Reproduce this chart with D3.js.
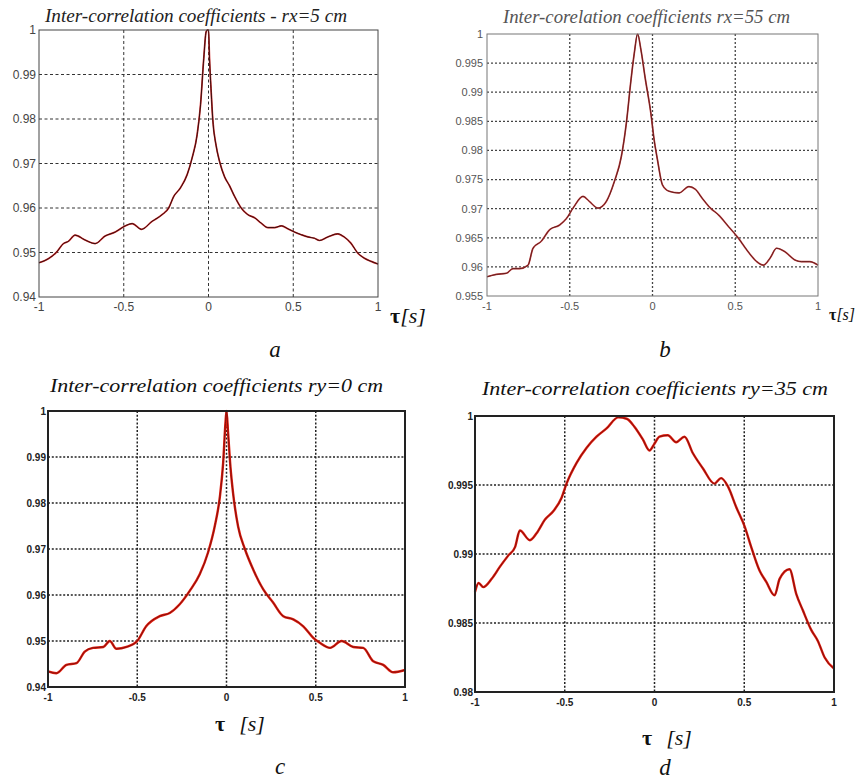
<!DOCTYPE html>
<html>
<head>
<meta charset="utf-8">
<script src="https://cdn.jsdelivr.net/npm/d3@7"></script>
<style>
  body { margin: 0; background: #fff; }
  svg { display: block; }
</style>
</head>
<body>
<div id="fig"></div>
<script>
// values (tau in s, coefficient)
var aTau = [-1, -0.945, -0.896, -0.856, -0.827, -0.787, -0.728, -0.669, -0.61, -0.55, -0.5, -0.45, -0.396, -0.333, -0.274, -0.235, -0.205, -0.166, -0.126, -0.097, -0.067, -0.047, -0.028, -0.014, -0.006, 0, 0.006, 0.016, 0.025, 0.045, 0.065, 0.095, 0.124, 0.154, 0.193, 0.232, 0.272, 0.311, 0.35, 0.39, 0.43, 0.47, 0.507, 0.547, 0.586, 0.625, 0.655, 0.704, 0.763, 0.8, 0.84, 0.88, 0.92, 0.96, 1];
var aVal = [0.9477, 0.9486, 0.9501, 0.952, 0.9525, 0.9539, 0.9528, 0.952, 0.9537, 0.9546, 0.9558, 0.9565, 0.9552, 0.957, 0.9585, 0.960, 0.9626, 0.9645, 0.9675, 0.9712, 0.9765, 0.9832, 0.9936, 0.9996, 1.0, 1.0, 0.9936, 0.986, 0.980, 0.974, 0.9705, 0.967, 0.965, 0.9626, 0.960, 0.9585, 0.9578, 0.9566, 0.9556, 0.9556, 0.956, 0.9553, 0.9546, 0.954, 0.9535, 0.9532, 0.9527, 0.9535, 0.9542, 0.9535, 0.9521, 0.9499, 0.9487, 0.948, 0.9474];

var bTau = [-1, -0.944, -0.883, -0.843, -0.803, -0.752, -0.722, -0.672, -0.621, -0.561, -0.52, -0.48, -0.42, -0.38, -0.33, -0.28, -0.23, -0.188, -0.158, -0.13, -0.11, -0.09, -0.07, -0.044, -0.01, 0.01, 0.03, 0.06, 0.1, 0.16, 0.22, 0.26, 0.3, 0.35, 0.4, 0.46, 0.52, 0.57, 0.63, 0.67, 0.71, 0.75, 0.8, 0.86, 0.9, 0.95, 1];
var bVal = [0.9583, 0.9587, 0.9589, 0.9597, 0.9597, 0.9603, 0.9632, 0.9644, 0.9664, 0.9672, 0.9683, 0.9701, 0.9721, 0.9712, 0.9701, 0.9712, 0.9747, 0.979, 0.9847, 0.9921, 0.9967, 1.0, 0.9973, 0.9924, 0.9864, 0.9818, 0.9784, 0.9741, 0.973, 0.9727, 0.9738, 0.9733, 0.9718, 0.9701, 0.9689, 0.9669, 0.9649, 0.9629, 0.9609, 0.9603, 0.9615, 0.9632, 0.9626, 0.9612, 0.9609, 0.9609, 0.9603];

var cTau = [-1, -0.953, -0.897, -0.84, -0.794, -0.748, -0.69, -0.654, -0.617, -0.56, -0.5, -0.45, -0.374, -0.318, -0.262, -0.206, -0.15, -0.103, -0.065, -0.037, -0.019, -0.006, 0, 0.009, 0.022, 0.037, 0.065, 0.103, 0.15, 0.206, 0.262, 0.318, 0.374, 0.43, 0.486, 0.523, 0.58, 0.645, 0.71, 0.766, 0.822, 0.878, 0.934, 1];
var cVal = [0.9434, 0.943, 0.9448, 0.9452, 0.9477, 0.9485, 0.9487, 0.95, 0.9483, 0.9487, 0.95, 0.9532, 0.9554, 0.9561, 0.958, 0.9609, 0.9645, 0.9693, 0.9751, 0.9814, 0.9886, 0.9973, 1.0, 0.9952, 0.9879, 0.9821, 0.9749, 0.97, 0.9655, 0.9612, 0.9583, 0.9554, 0.9547, 0.9532, 0.9507, 0.9496, 0.9485, 0.95, 0.9487, 0.9485, 0.9456, 0.9448, 0.9432, 0.9437];

var dTau = [-1, -0.98, -0.954, -0.907, -0.86, -0.814, -0.777, -0.75, -0.694, -0.657, -0.61, -0.564, -0.517, -0.49, -0.434, -0.378, -0.323, -0.267, -0.202, -0.155, -0.111, -0.065, -0.028, 0, 0.028, 0.074, 0.121, 0.167, 0.214, 0.27, 0.334, 0.371, 0.409, 0.455, 0.502, 0.539, 0.585, 0.622, 0.669, 0.697, 0.752, 0.79, 0.827, 0.873, 0.91, 0.948, 1];
var dVal = [0.98725, 0.9879, 0.9876, 0.9882, 0.9891, 0.9899, 0.9905, 0.9917, 0.991, 0.9915, 0.9925, 0.9931, 0.9941, 0.9951, 0.9966, 0.9977, 0.9985, 0.9991, 0.9999, 0.9998, 0.9992, 0.9983, 0.9975, 0.998, 0.9985, 0.9986, 0.9981, 0.9985, 0.9973, 0.9962, 0.9951, 0.9955, 0.9949, 0.9934, 0.992, 0.9905, 0.9888, 0.988, 0.987, 0.9882, 0.9889, 0.9871, 0.9859, 0.9845, 0.9837, 0.9825, 0.9817];

var xTicks = [-1, -0.5, 0, 0.5, 1];
var aTicks = [0.94, 0.95, 0.96, 0.97, 0.98, 0.99, 1];
var bTicks = [0.955, 0.96, 0.965, 0.97, 0.975, 0.98, 0.985, 0.99, 0.995, 1];
var cTicks = [0.94, 0.95, 0.96, 0.97, 0.98, 0.99, 1];
var dTicks = [0.98, 0.985, 0.99, 0.995, 1];

var titles = [
  "Inter-correlation coefficients - rx=5 cm",
  "Inter-corelation coefficients rx=55 cm",
  "Inter-correlation coefficients ry=0 cm",
  "Inter-correlation coefficients ry=35 cm"
];
var letters = ["a", "b", "c", "d"];

var W = 859, H = 782;
var svg = d3.select("#fig").append("svg").attr("width", W).attr("height", H);

var serif = "'Liberation Serif', 'Times New Roman', serif";
var sans = "'Liberation Sans', Arial, sans-serif";

var panels = [
  { tau: aTau, val: aVal, ticks: aTicks, box: [39, 378, 30, 297], dom: [0.94, 1],
    title: titles[0], tx: 45, ty: 22, tw: 302, tcol: "#222", tsize: 18,
    tickFont: 12, tickBold: false, tickCol: "#444", ylx: 36, xly: 311,
    grid: "3,2.5", gridCol: "#333", gridW: 1, frameW: 1, frameCol: "#444",
    lineCol: "#d02020", topCol: "#201010", lineW: 1.7,
    letter: letters[0], lx: 275, ly: 357, tauX: 390, tauY: 323, tauGap: 0, tauSize: 22 },
  { tau: bTau, val: bVal, ticks: bTicks, box: [487, 818, 34, 296], dom: [0.955, 1],
    title: titles[1], tx: 503, ty: 23, tw: 287, tcol: "#555", tsize: 18,
    tickFont: 11, tickBold: false, tickCol: "#555", ylx: 483, xly: 310,
    grid: "2,2", gridCol: "#444", gridW: 1.3, frameW: 1, frameCol: "#777",
    lineCol: "#c04040", topCol: "#5a1a1a", lineW: 1.7,
    letter: letters[1], lx: 665, ly: 357, tauX: 829, tauY: 320, tauGap: 0, tauSize: 16 },
  { tau: cTau, val: cVal, ticks: cTicks, box: [48, 405, 411, 687], dom: [0.94, 1],
    title: titles[2], tx: 50, ty: 392, tw: 333, tcol: "#111", tsize: 18,
    tickFont: 10, tickBold: true, tickCol: "#222", ylx: 46, xly: 701,
    grid: "2,1.8", gridCol: "#222", gridW: 1.5, frameW: 2, frameCol: "#222",
    lineCol: "#e01a0a", topCol: "#7a1010", lineW: 2.4,
    letter: letters[2], lx: 280, ly: 774, tauX: 215, tauY: 731, tauGap: 14, tauSize: 22 },
  { tau: dTau, val: dVal, ticks: dTicks, box: [475, 834, 416, 692], dom: [0.98, 1],
    title: titles[3], tx: 482, ty: 395, tw: 346, tcol: "#111", tsize: 18,
    tickFont: 10, tickBold: true, tickCol: "#222", ylx: 473, xly: 706,
    grid: "2,1.8", gridCol: "#222", gridW: 1.5, frameW: 2, frameCol: "#222",
    lineCol: "#e01a0a", topCol: "#7a1010", lineW: 2.4,
    letter: letters[3], lx: 665, ly: 775, tauX: 642, tauY: 745, tauGap: 14, tauSize: 22 }
];

panels.forEach(function (p) {
  var x = d3.scaleLinear().domain([-1, 1]).range([p.box[0], p.box[1]]);
  var y = d3.scaleLinear().domain(p.dom).range([p.box[3], p.box[2]]);
  var g = svg.append("g");

  // grid
  g.selectAll(".vg").data(xTicks.slice(1, -1)).enter().append("line")
    .attr("x1", function (d) { return x(d); }).attr("x2", function (d) { return x(d); })
    .attr("y1", p.box[2]).attr("y2", p.box[3])
    .attr("stroke", p.gridCol).attr("stroke-width", p.gridW).attr("stroke-dasharray", p.grid);
  g.selectAll(".hg").data(p.ticks.slice(1, -1)).enter().append("line")
    .attr("x1", p.box[0]).attr("x2", p.box[1])
    .attr("y1", function (d) { return y(d); }).attr("y2", function (d) { return y(d); })
    .attr("stroke", p.gridCol).attr("stroke-width", p.gridW).attr("stroke-dasharray", p.grid);

  // curve
  var pts = p.tau.map(function (t, i) { return [t, p.val[i]]; });
  var line = d3.line().x(function (d) { return x(d[0]); }).y(function (d) { return y(d[1]); })
    .curve(d3.curveMonotoneX);
  g.append("path").attr("d", line(pts)).attr("fill", "none")
    .attr("stroke", p.lineCol).attr("stroke-width", p.lineW).attr("stroke-linejoin", "round");
  g.append("path").attr("d", line(pts)).attr("fill", "none")
    .attr("stroke", p.topCol).attr("stroke-width", 0.9).attr("stroke-linejoin", "round");

  // frame
  g.append("rect").attr("x", p.box[0]).attr("y", p.box[2])
    .attr("width", p.box[1] - p.box[0]).attr("height", p.box[3] - p.box[2])
    .attr("fill", "none").attr("stroke", p.frameCol).attr("stroke-width", p.frameW);

  // tick labels
  g.selectAll(".yl").data(p.ticks).enter().append("text")
    .attr("x", p.ylx).attr("y", function (d) { return y(d); }).attr("dy", "0.35em")
    .attr("text-anchor", "end").attr("font-family", sans).attr("font-size", p.tickFont)
    .attr("font-weight", p.tickBold ? "bold" : "normal").attr("fill", p.tickCol)
    .text(function (d) { return d3.format("")(d); });
  g.selectAll(".xl").data(xTicks).enter().append("text")
    .attr("x", function (d) { return x(d); }).attr("y", p.xly)
    .attr("text-anchor", "middle").attr("font-family", sans).attr("font-size", p.tickFont)
    .attr("font-weight", p.tickBold ? "bold" : "normal").attr("fill", p.tickCol)
    .text(function (d) { return d; });

  // title
  g.append("text").attr("x", p.tx).attr("y", p.ty)
    .attr("font-family", serif).attr("font-style", "italic").attr("font-size", p.tsize)
    .attr("fill", p.tcol).attr("textLength", p.tw).attr("lengthAdjust", "spacingAndGlyphs")
    .text(p.title);

  // tau [s]
  var t = g.append("text").attr("x", p.tauX).attr("y", p.tauY)
    .attr("font-family", serif).attr("font-size", p.tauSize).attr("fill", "#111");
  t.append("tspan").attr("font-weight", "bold").text("\u03c4");
  t.append("tspan").attr("dx", p.tauGap).attr("font-style", "italic").text("[s]");

  // panel letter
  g.append("text").attr("x", p.lx).attr("y", p.ly).attr("text-anchor", "middle")
    .attr("font-family", serif).attr("font-style", "italic").attr("font-size", 23)
    .attr("fill", "#111").text(p.letter);
});
</script>
</body>
</html>
